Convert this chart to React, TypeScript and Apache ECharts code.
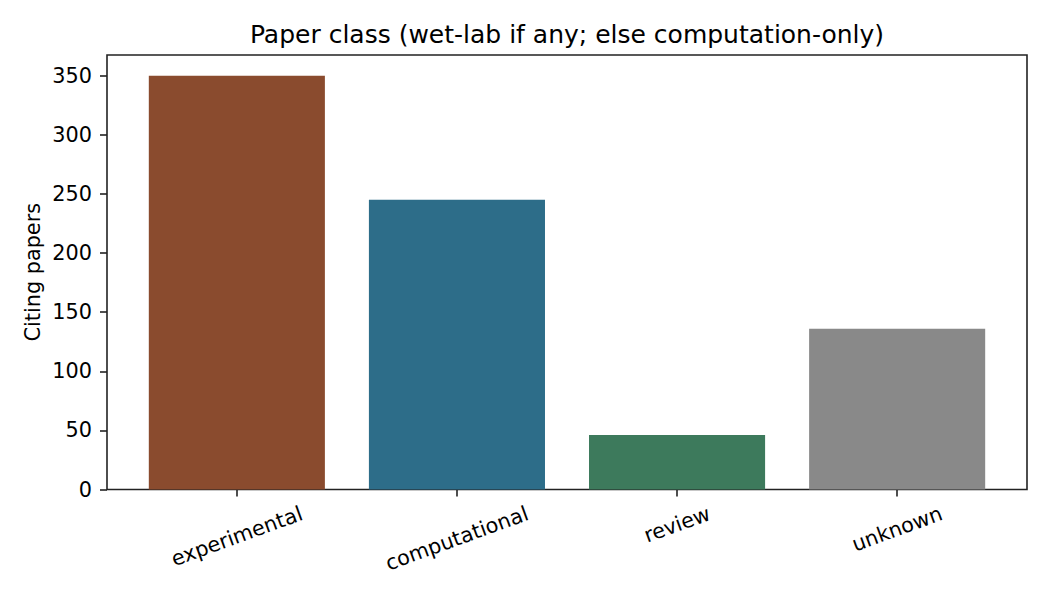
import { useEffect, useRef } from "react";
import * as echarts from "echarts";

const TITLE = "Paper class (wet-lab if any; else computation-only)";
const Y_NAME = "Citing papers";

const CATEGORIES = ["experimental", "computational", "review", "unknown"];
const COUNTS = [350, 245, 46, 136];
const BAR_COLORS = ["#8a4b2e", "#2d6d89", "#3d7a5c", "#898989"];
const Y_TICKS = [0, 50, 100, 150, 200, 250, 300, 350];

const FONT = "DejaVu Sans";
const INK = "#222222";
const TICK_FONT_SIZE = 20.8;
const X_ROTATE = 20;
const AXIS_BOTTOM = 489.5;

export default function App() {
  const ref = useRef<HTMLDivElement | null>(null);

  useEffect(() => {
    const el = ref.current;
    if (!el) {
      return;
    }

    const chart = echarts.init(el, null, { renderer: "svg" });

    // frame (grid 0) spans the full plot box, bars (grid 1) sit inside it
    // with matplotlib's 5% x margins
    chart.setOption({
      animation: false,
      backgroundColor: "#ffffff",
      textStyle: { fontFamily: FONT, color: "#000" },
      title: {
        text: TITLE,
        left: 562,
        top: 17,
        textAlign: "center",
        textStyle: {
          fontFamily: FONT,
          fontSize: 25,
          fontWeight: "normal",
          color: "#000",
        },
      },
      grid: [
        {
          left: 107,
          right: 23,
          top: 55,
          bottom: 600 - AXIS_BOTTOM,
          show: true,
          borderColor: INK,
          borderWidth: 1.6,
          backgroundColor: "transparent",
        },
        {
          left: 126.8,
          right: 42.8,
          top: 55,
          bottom: 600 - AXIS_BOTTOM,
        },
      ],
      xAxis: [
        {
          gridIndex: 0,
          type: "value",
          show: false,
        },
        {
          gridIndex: 1,
          type: "category",
          data: CATEGORIES,
          axisLine: { show: false },
          axisTick: {
            show: true,
            alignWithLabel: true,
            length: 7,
            lineStyle: { color: INK, width: 1.6 },
          },
          axisLabel: { show: false },
        },
      ],
      yAxis: [
        {
          gridIndex: 0,
          type: "value",
          show: false,
        },
        {
          gridIndex: 1,
          type: "value",
          min: 0,
          max: 367.5,
          offset: 19.8,
          name: Y_NAME,
          nameLocation: "middle",
          nameGap: 64,
          nameMoveOverlap: false,
          nameTextStyle: {
            fontFamily: FONT,
            fontSize: TICK_FONT_SIZE,
            color: "#000",
          },
          splitLine: { show: false },
          axisLine: { show: false },
          axisTick: {
            show: true,
            customValues: Y_TICKS,
            length: 7,
            lineStyle: { color: INK, width: 1.6 },
          },
          axisLabel: {
            customValues: Y_TICKS,
            margin: 15,
            fontFamily: FONT,
            fontSize: TICK_FONT_SIZE,
            color: "#000",
          },
        },
      ],
      series: [
        {
          type: "bar",
          xAxisIndex: 1,
          yAxisIndex: 1,
          barWidth: "80%",
          data: COUNTS.map((v, i) => ({
            value: v,
            itemStyle: { color: BAR_COLORS[i] },
          })),
        },
      ],
    });

    // rotated category labels, matplotlib style: the rotated box is
    // centred on the tick and its top sits at a fixed distance below the axis
    const ctx = document.createElement("canvas").getContext("2d");
    const font = `${TICK_FONT_SIZE}px "${FONT}"`;
    if (ctx) {
      ctx.font = font;
    }
    const widths = CATEGORIES.map((c) =>
      ctx ? ctx.measureText(c).width : c.length * 11,
    );
    const minW = Math.min(...widths);
    const rad = (X_ROTATE * Math.PI) / 180;
    const baseCenter = AXIS_BOTTOM + 35;

    chart.setOption({
      graphic: CATEGORIES.map((c, i) => {
        const x = chart.convertToPixel({ xAxisIndex: 1 }, c) as number;
        const y = baseCenter + ((widths[i] - minW) / 2) * Math.sin(rad);
        return {
          type: "text",
          x,
          y,
          rotation: rad,
          silent: true,
          style: {
            text: c,
            font,
            fill: "#000",
            align: "center",
            verticalAlign: "middle",
          },
        };
      }),
    });

    return () => {
      chart.dispose();
    };
  }, []);

  return (
    <div
      ref={ref}
      style={{ position: "fixed", left: 0, top: 0, width: 1050, height: 600 }}
    />
  );
}
